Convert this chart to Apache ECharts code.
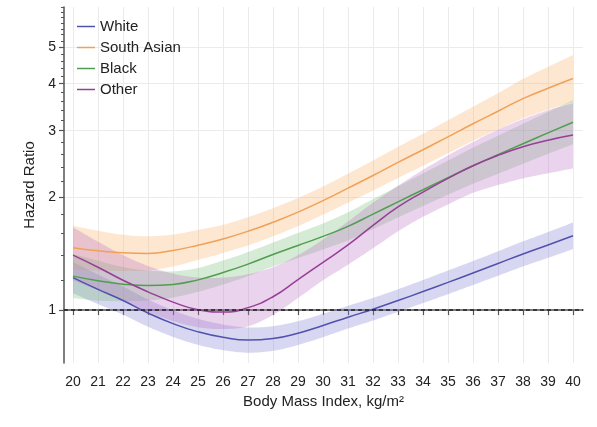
<!DOCTYPE html>
<html>
<head>
<meta charset="utf-8">
<script src="https://cdn.jsdelivr.net/npm/echarts@6/dist/echarts.min.js"></script>
<style>html,body{margin:0;padding:0;background:#fff}#c{width:597px;height:427px}</style>
</head>
<body>
<div id="c"></div>
<script>
// ---- data ----
const bmi = [20,21,22,23,24,25,26,27,28,29,30,31,32,33,34,35,36,37,38,39,40];
const xTicks = [20,21,22,23,24,25,26,27,28,29,30,31,32,33,34,35,36,37,38,39,40];
const yMajorTicks = [1,2,3,4,5];
const yMinorTicks = [1.2,1.4,1.6,1.8,2.2,2.4,2.6,2.8,3.2,3.4,3.6,3.8,4.2,4.4,4.6,4.8,5.2,5.4,5.6,5.8,6.0,6.2,6.4];

const whiteHR = [1.22,1.135,1.06,0.982,0.92,0.875,0.846,0.832,0.84,0.868,0.91,0.957,1.005,1.06,1.12,1.185,1.255,1.33,1.41,1.49,1.576];
const whiteLo = [1.109,1.037,0.972,0.903,0.848,0.808,0.782,0.770,0.779,0.807,0.847,0.893,0.938,0.989,1.044,1.102,1.166,1.234,1.306,1.377,1.453];
const whiteHi = [1.342,1.243,1.155,1.067,0.998,0.948,0.915,0.899,0.906,0.934,0.977,1.026,1.077,1.136,1.202,1.274,1.350,1.434,1.523,1.612,1.710];

const southAsianHR = [1.465,1.438,1.42,1.415,1.44,1.488,1.546,1.62,1.712,1.822,1.955,2.11,2.28,2.47,2.67,2.89,3.13,3.38,3.65,3.89,4.13];
const southAsianLo = [1.281,1.273,1.271,1.275,1.306,1.359,1.418,1.486,1.571,1.672,1.794,1.930,2.080,2.245,2.421,2.611,2.820,3.026,3.236,3.412,3.576];
const southAsianHi = [1.676,1.625,1.586,1.571,1.588,1.633,1.685,1.766,1.866,1.986,2.131,2.306,2.499,2.717,2.945,3.199,3.474,3.775,4.117,4.435,4.770];

const blackHR = [1.231,1.197,1.172,1.162,1.170,1.203,1.258,1.325,1.405,1.485,1.57,1.67,1.80,1.94,2.09,2.25,2.42,2.59,2.77,2.96,3.16];
const blackLo = [1.076,1.059,1.056,1.060,1.080,1.118,1.169,1.231,1.306,1.375,1.450,1.532,1.642,1.764,1.891,2.027,2.167,2.306,2.451,2.603,2.762];
const blackHi = [1.408,1.353,1.301,1.274,1.267,1.294,1.354,1.426,1.512,1.604,1.700,1.820,1.973,2.134,2.309,2.498,2.703,2.909,3.130,3.366,3.615];

const otherHR = [1.40,1.30,1.20,1.118,1.05,1.002,0.988,1.015,1.085,1.205,1.34,1.49,1.68,1.88,2.06,2.24,2.42,2.58,2.72,2.83,2.92];
const otherLo = [1.20,1.13,1.06,0.99,0.935,0.90,0.89,0.905,0.97,1.076,1.20,1.32,1.46,1.62,1.77,1.91,2.05,2.15,2.24,2.31,2.38];
const otherHi = [1.66,1.52,1.40,1.31,1.25,1.22,1.22,1.245,1.30,1.40,1.54,1.72,1.93,2.14,2.36,2.58,2.80,3.02,3.22,3.40,3.55];

const groups = [
  {name:'White', mid:whiteHR, lo:whiteLo, hi:whiteHi, line:'#5151ae', band:'rgba(130,130,210,0.32)'},
  {name:'South Asian', mid:southAsianHR, lo:southAsianLo, hi:southAsianHi, line:'#f1a157', band:'rgba(250,175,100,0.3)'},
  {name:'Black', mid:blackHR, lo:blackLo, hi:blackHi, line:'#4f9e4f', band:'rgba(120,190,120,0.3)'},
  {name:'Other', mid:otherHR, lo:otherLo, hi:otherHi, line:'#963f96', band:'rgba(185,110,195,0.3)'}
];

const L = v => Math.log10(v);

// sample a Catmull-Rom curve through screen points (rendering only)
function sampleCurve(p, steps) {
  const out = [];
  const n = p.length;
  for (let i = 0; i < n - 1; i++) {
    const p0 = p[Math.max(i - 1, 0)], p1 = p[i], p2 = p[i + 1], p3 = p[Math.min(i + 2, n - 1)];
    const c1 = [p1[0] + (p2[0] - p0[0]) / 6, p1[1] + (p2[1] - p0[1]) / 6];
    const c2 = [p2[0] - (p3[0] - p1[0]) / 6, p2[1] - (p3[1] - p1[1]) / 6];
    for (let s = 0; s < steps; s++) {
      const t = s / steps, u = 1 - t;
      out.push([
        u*u*u*p1[0] + 3*u*u*t*c1[0] + 3*u*t*t*c2[0] + t*t*t*p2[0],
        u*u*u*p1[1] + 3*u*u*t*c1[1] + 3*u*t*t*c2[1] + t*t*t*p2[1]
      ]);
    }
  }
  out.push(p[n - 1]);
  return out;
}

const series = [];
groups.forEach(g => {
  series.push({
    type:'custom', name:g.name+' CI', silent:true, z:1, clip:true,
    encode:{x:0, y:[1,2]},
    data: bmi.map((x,i)=>[x, L(g.lo[i]), L(g.hi[i])]),
    renderItem: function (params, api) {
      if (params.dataIndex !== 0) return null;
      const up = bmi.map((x,i)=>api.coord([x, L(g.hi[i])]));
      const dn = bmi.map((x,i)=>api.coord([x, L(g.lo[i])])).reverse();
      const pts = sampleCurve(up, 10).concat(sampleCurve(dn, 10));
      return {type:'polygon', shape:{points:pts}, style:{fill:g.band, stroke:null}};
    }
  });
});
groups.forEach((g, gi) => {
  const s = {
    type:'line', name:g.name, smooth:true, symbol:'none', z:3,
    lineStyle:{color:g.line, width:1.5}, itemStyle:{color:g.line},
    data: bmi.map((x,i)=>[x, L(g.mid[i])])
  };
  if (gi === 0) {
    s.markLine = {
      silent:true, symbol:['none','none'], label:{show:false}, z:5,
      lineStyle:{type:[4,3], color:'#222', width:1.6},
      data:[{yAxis: L(1)}]
    };
  }
  series.push(s);
});

const chart = echarts.init(document.getElementById('c'), null, {renderer:'canvas'});
chart.setOption({
  animation:false,
  backgroundColor:'#fff',
  textStyle:{fontFamily:'Liberation Sans, Arial, sans-serif'},
  grid:{left:64, right:14, top:7, bottom:64, containLabel:false},
  legend:{
    data: groups.map(g=>g.name), orient:'vertical', left:72, top:14, itemGap:6,
    icon:'rect', itemWidth:18, itemHeight:1.5,
    textStyle:{fontSize:15, color:'#222', fontFamily:'Liberation Sans, Arial, sans-serif'}
  },
  xAxis:{
    type:'value', min:19.64, max:40.4,
    name:'Body Mass Index, kg/m²', nameLocation:'middle', nameGap:28,
    nameTextStyle:{fontSize:15, color:'#222'},
    axisLine:{show:true, lineStyle:{color:'#555', width:1.5}},
    axisTick:{show:true, customValues:xTicks, length:5, inside:false, lineStyle:{color:'#555', width:1.2}},
    axisLabel:{customValues:xTicks, fontSize:14, color:'#222', margin:12},
    splitLine:{show:true, lineStyle:{color:'#ebebeb', width:1}}
  },
  yAxis:[{
    type:'value', min:L(0.723), max:L(6.4),
    name:'Hazard Ratio', nameLocation:'middle', nameGap:26, nameRotate:90,
    nameTextStyle:{fontSize:15, color:'#222'},
    axisLine:{show:true, lineStyle:{color:'#555', width:1.5}},
    axisTick:{show:true, customValues:yMajorTicks.map(L), length:5, lineStyle:{color:'#555', width:1.2}},
    axisLabel:{customValues:yMajorTicks.map(L), fontSize:14, color:'#222', margin:8,
      formatter: v => String(Math.round(Math.pow(10, v)))},
    splitLine:{show:true, lineStyle:{color:'#ebebeb', width:1}}
  },{
    type:'value', min:L(0.723), max:L(6.4), position:'left', offset:0,
    axisLine:{show:false},
    axisTick:{show:true, customValues:yMinorTicks.map(L), length:3, lineStyle:{color:'#555', width:1}},
    axisLabel:{show:false},
    splitLine:{show:false}
  }],
  series: series
});
</script>
</body>
</html>
